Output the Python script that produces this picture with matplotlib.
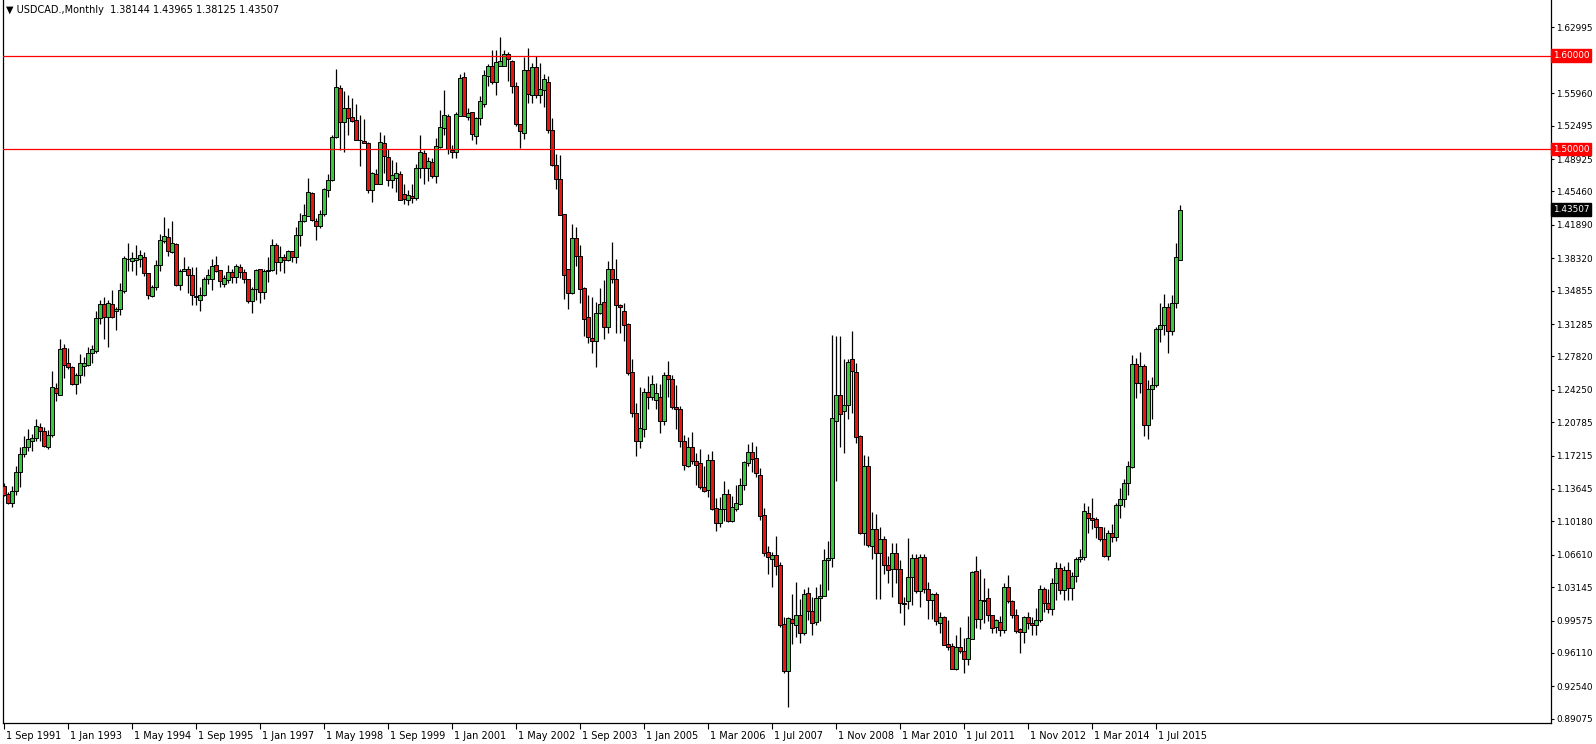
import matplotlib
matplotlib.use("Agg")
import matplotlib.pyplot as plt
import matplotlib.transforms as mtransforms
import numpy as np

# USDCAD monthly bars, Sep 1991 .. Jan 2016
opens = [
    1.1396, 1.1312, 1.1218, 1.1339, 1.1546, 1.1738, 1.1817, 1.1882, 1.1910, 1.2024,
    1.1981, 1.1817, 1.1938, 1.2444, 1.2373, 1.2872, 1.2708, 1.2672, 1.2487, 1.2580,
    1.2680, 1.2694, 1.2815, 1.2844, 1.3193, 1.3343, 1.3200, 1.3343, 1.3264, 1.3286,
    1.3485, 1.3820, 1.3806, 1.3813, 1.3827, 1.3849, 1.3670, 1.3424, 1.3521, 1.3756,
    1.4013, 1.4056, 1.3899, 1.3984, 1.3542, 1.3699, 1.3713, 1.3649, 1.3428, 1.3385,
    1.3435, 1.3606, 1.3613, 1.3756, 1.3706, 1.3556, 1.3599, 1.3685, 1.3627, 1.3735,
    1.3685, 1.3606, 1.3371, 1.3499, 1.3720, 1.3471, 1.3700, 1.3710, 1.3973, 1.3790,
    1.3850, 1.3810, 1.3910, 1.3850, 1.4080, 1.4230, 1.4280, 1.4529, 1.4230, 1.4180,
    1.4301, 1.4565, 1.4665, 1.5128, 1.5649, 1.5292, 1.5435, 1.5342, 1.5306, 1.5100,
    1.5086, 1.5064, 1.4558, 1.4736, 1.4622, 1.5064, 1.4914, 1.4665, 1.4693, 1.4729,
    1.4515, 1.4458, 1.4494, 1.4479, 1.4793, 1.4957, 1.4793, 1.4864, 1.4708, 1.5021,
    1.5228, 1.5357, 1.4992, 1.4964, 1.5357, 1.5770, 1.5342, 1.5392, 1.5135, 1.5328,
    1.5485, 1.5784, 1.5884, 1.5720, 1.5891, 1.5884, 1.6012, 1.5941, 1.5670, 1.5264,
    1.5166, 1.5845, 1.5574, 1.5874, 1.5581, 1.5631, 1.5717, 1.5203, 1.4825, 1.4676,
    1.4305, 1.3713, 1.3457, 1.4048, 1.3856, 1.3513, 1.3200, 1.2979, 1.2943, 1.3243,
    1.3364, 1.3093, 1.3721, 1.3613, 1.3328, 1.3264, 1.3128, 1.2615, 1.2173, 1.1880,
    1.2002, 1.2401, 1.2344, 1.2316, 1.2344, 1.2094, 1.2579, 1.2537, 1.2237, 1.2216,
    1.1874, 1.1610, 1.1809, 1.1660, 1.1638, 1.1382, 1.1353, 1.1674, 1.1160, 1.0996,
    1.1146, 1.1310, 1.1025, 1.1153, 1.1203, 1.1403, 1.1645, 1.1759, 1.1695, 1.1510,
    1.1082, 1.0690, 1.0611, 1.0654, 1.0547, 0.9920, 0.9421, 0.9977, 0.9906, 1.0013,
    0.9820, 1.0248, 1.0055, 0.9941, 1.0198, 1.0219, 1.0604, 1.0626, 1.2087, 1.2365,
    1.2194, 1.2258, 1.2751, 1.2615, 1.1930, 1.0897, 1.1610, 1.0754, 1.0932, 1.0676,
    1.0832, 1.0547, 1.0504, 1.0676, 1.0504, 1.0148, 1.0163, 1.0419, 1.0626, 1.0269,
    1.0640, 1.0291, 1.0177, 1.0241, 0.9927, 0.9991, 0.9706, 0.9684, 0.9435, 0.9670,
    0.9627, 0.9542, 0.9763, 1.0483, 0.9977, 1.0177, 1.0198, 1.0013, 0.9884, 0.9941,
    0.9856, 1.0312, 1.0170, 1.0020, 0.9870, 0.9834, 0.9991, 0.9927, 0.9913, 0.9963,
    1.0298, 1.0148, 1.0080, 1.0360, 1.0520, 1.0280, 1.0500, 1.0300, 1.0430, 1.0619,
    1.0633, 1.1104, 1.1054, 1.1040, 1.0954, 1.0833, 1.0647, 1.0890, 1.0854, 1.1189,
    1.1253, 1.1424, 1.1596, 1.2701, 1.2494, 1.2680, 1.2052, 1.2437, 1.2480, 1.3078,
    1.3121, 1.3314, 1.3057, 1.3350, 1.38144,
]
highs = [
    1.1424, 1.1332, 1.1396, 1.1610, 1.1810, 1.1931, 1.2002, 1.1957, 1.2116, 1.2067,
    1.2031, 1.1995, 1.2630, 1.2501, 1.2972, 1.2914, 1.2872, 1.2679, 1.2608, 1.2808,
    1.2772, 1.2879, 1.2900, 1.3271, 1.3385, 1.3421, 1.3385, 1.3492, 1.3314, 1.3563,
    1.3856, 1.3998, 1.3898, 1.3970, 1.3920, 1.3899, 1.3677, 1.3549, 1.3813, 1.4091,
    1.4277, 1.4155, 1.4227, 1.3991, 1.3713, 1.3841, 1.3749, 1.3735, 1.3735, 1.3528,
    1.3627, 1.3713, 1.3820, 1.3856, 1.3706, 1.3656, 1.3756, 1.3720, 1.3770, 1.3770,
    1.3713, 1.3613, 1.3521, 1.3720, 1.3720, 1.3720, 1.3850, 1.4037, 1.3990, 1.3966,
    1.3880, 1.3916, 1.3880, 1.4166, 1.4315, 1.4415, 1.4686, 1.4544, 1.4265, 1.4351,
    1.4579, 1.4729, 1.5150, 1.5856, 1.5685, 1.5620, 1.5578, 1.5542, 1.5485, 1.5364,
    1.5321, 1.5071, 1.4758, 1.4786, 1.5178, 1.5150, 1.5000, 1.4879, 1.4857, 1.4765,
    1.4629, 1.4565, 1.4629, 1.4843, 1.5150, 1.4985, 1.4914, 1.4900, 1.5121, 1.5413,
    1.5627, 1.5378, 1.5043, 1.5400, 1.5806, 1.5827, 1.5435, 1.5392, 1.5342, 1.5563,
    1.5841, 1.5905, 1.6055, 1.6062, 1.6198, 1.6055, 1.6034, 1.5955, 1.5720, 1.5271,
    1.5987, 1.6075, 1.5916, 1.5995, 1.5916, 1.5802, 1.5781, 1.5332, 1.4947, 1.4940,
    1.4305, 1.3720, 1.4198, 1.4168, 1.3970, 1.3521, 1.3435, 1.3421, 1.3364, 1.3513,
    1.3599, 1.3799, 1.4006, 1.3820, 1.3342, 1.3350, 1.3136, 1.2758, 1.2280, 1.2458,
    1.2440, 1.2572, 1.2587, 1.2494, 1.2487, 1.2615, 1.2729, 1.2579, 1.2473, 1.2252,
    1.1938, 1.1916, 1.1973, 1.1745, 1.1788, 1.1610, 1.1738, 1.1766, 1.1268, 1.1275,
    1.1446, 1.1360, 1.1289, 1.1410, 1.1481, 1.1666, 1.1845, 1.1866, 1.1823, 1.1588,
    1.1161, 1.0754, 1.0690, 1.0861, 1.0583, 0.9998, 1.0000, 1.0241, 1.0369, 1.0191,
    1.0291, 1.0319, 1.0212, 1.0319, 1.0348, 1.0725, 1.0811, 1.3014, 1.3000, 1.3000,
    1.2758, 1.2758, 1.3057, 1.2715, 1.1938, 1.1731, 1.1717, 1.1118, 1.1096, 1.0961,
    1.0861, 1.0647, 1.0782, 1.0782, 1.0604, 1.0212, 1.0840, 1.0669, 1.0669, 1.0669,
    1.0669, 1.0369, 1.0255, 1.0262, 1.0048, 1.0005, 0.9963, 0.9713, 0.9799, 0.9891,
    0.9770, 1.0005, 1.0490, 1.0647, 1.0512, 1.0412, 1.0305, 1.0013, 0.9977, 1.0005,
    1.0362, 1.0441, 1.0177, 1.0084, 0.9877, 1.0005, 1.0048, 0.9998, 1.0091, 1.0334,
    1.0319, 1.0290, 1.0410, 1.0580, 1.0570, 1.0540, 1.0580, 1.0480, 1.0640, 1.0725,
    1.1218, 1.1182, 1.1268, 1.1061, 1.0960, 1.0954, 1.0925, 1.0990, 1.1211, 1.1374,
    1.1467, 1.1667, 1.2800, 1.2765, 1.2829, 1.2701, 1.2530, 1.2565, 1.3100, 1.3349,
    1.3449, 1.3350, 1.3440, 1.3990, 1.43965,
]
lows = [
    1.1289, 1.1204, 1.1175, 1.1303, 1.1389, 1.1703, 1.1774, 1.1774, 1.1874, 1.1881,
    1.1810, 1.1796, 1.1916, 1.2309, 1.2373, 1.2551, 1.2651, 1.2473, 1.2380, 1.2501,
    1.2572, 1.2679, 1.2715, 1.2822, 1.3129, 1.2972, 1.2886, 1.3193, 1.3064, 1.3221,
    1.3456, 1.3692, 1.3699, 1.3649, 1.3735, 1.3642, 1.3392, 1.3414, 1.3492, 1.3692,
    1.4000, 1.3856, 1.3884, 1.3535, 1.3492, 1.3699, 1.3464, 1.3336, 1.3329, 1.3264,
    1.3428, 1.3556, 1.3492, 1.3685, 1.3528, 1.3528, 1.3570, 1.3570, 1.3570, 1.3620,
    1.3570, 1.3357, 1.3250, 1.3385, 1.3357, 1.3392, 1.3580, 1.3700, 1.3660, 1.3700,
    1.3670, 1.3800, 1.3790, 1.3780, 1.3959, 1.4223, 1.4280, 1.4230, 1.4030, 1.4159,
    1.4287, 1.4487, 1.4658, 1.5121, 1.4986, 1.4971, 1.5150, 1.5292, 1.5100, 1.4815,
    1.5064, 1.4530, 1.4437, 1.4622, 1.4622, 1.4743, 1.4601, 1.4587, 1.4544, 1.4458,
    1.4415, 1.4401, 1.4422, 1.4458, 1.4693, 1.4629, 1.4658, 1.4693, 1.4636, 1.5007,
    1.5150, 1.4943, 1.4900, 1.4900, 1.5357, 1.5350, 1.5314, 1.5093, 1.5057, 1.5257,
    1.5449, 1.5677, 1.5691, 1.5578, 1.5884, 1.5884, 1.5727, 1.5599, 1.5242, 1.5007,
    1.5104, 1.5489, 1.5495, 1.5545, 1.5495, 1.5446, 1.5168, 1.4818, 1.4576, 1.4291,
    1.3400, 1.3292, 1.3450, 1.3749, 1.3357, 1.3000, 1.2922, 1.2822, 1.2672, 1.3236,
    1.2972, 1.3029, 1.3563, 1.3029, 1.3036, 1.2943, 1.2580, 1.2137, 1.1720, 1.1800,
    1.1923, 1.2223, 1.2316, 1.2223, 1.1966, 1.2052, 1.2344, 1.2223, 1.2009, 1.1817,
    1.1567, 1.1603, 1.1631, 1.1410, 1.1360, 1.1332, 1.1282, 1.1139, 1.0918, 1.0953,
    1.1025, 1.1011, 1.1011, 1.1132, 1.1196, 1.1353, 1.1610, 1.1546, 1.1489, 1.1032,
    1.0647, 1.0454, 1.0319, 1.0447, 0.9891, 0.9399, 0.9030, 0.9710, 0.9780, 0.9720,
    0.9800, 0.9963, 0.9800, 0.9913, 0.9955, 1.0216, 1.0283, 1.0533, 1.1453, 1.1809,
    1.1752, 1.2116, 1.2180, 1.1852, 1.0882, 1.0768, 1.0747, 1.0618, 1.0191, 1.0191,
    1.0455, 1.0355, 1.0212, 1.0355, 1.0041, 0.9913, 1.0084, 1.0127, 1.0248, 1.0098,
    1.0248, 0.9970, 0.9970, 0.9906, 0.9820, 0.9692, 0.9642, 0.9435, 0.9428, 0.9606,
    0.9392, 0.9478, 0.9763, 0.9877, 0.9870, 0.9927, 0.9948, 0.9827, 0.9827, 0.9792,
    0.9820, 1.0148, 0.9984, 0.9827, 0.9614, 0.9720, 0.9870, 0.9806, 0.9799, 0.9941,
    1.0050, 1.0040, 1.0020, 1.0180, 1.0240, 1.0180, 1.0180, 1.0180, 1.0370, 1.0580,
    1.0604, 1.0897, 1.0932, 1.0840, 1.0804, 1.0633, 1.0604, 1.0797, 1.0811, 1.1054,
    1.1175, 1.1303, 1.1589, 1.2337, 1.2394, 1.1931, 1.1902, 1.2116, 1.2451, 1.2936,
    1.3007, 1.2822, 1.3010, 1.3300, 1.38125,
]
closes = [
    1.1303, 1.1218, 1.1339, 1.1546, 1.1738, 1.1817, 1.1902, 1.1910, 1.2038, 1.1981,
    1.1824, 1.1938, 1.2451, 1.2387, 1.2865, 1.2694, 1.2672, 1.2487, 1.2587, 1.2708,
    1.2708, 1.2815, 1.2858, 1.3193, 1.3343, 1.3200, 1.3350, 1.3207, 1.3293, 1.3492,
    1.3834, 1.3820, 1.3834, 1.3834, 1.3863, 1.3670, 1.3435, 1.3528, 1.3756, 1.4027,
    1.4070, 1.3906, 1.3991, 1.3549, 1.3692, 1.3720, 1.3649, 1.3435, 1.3414, 1.3442,
    1.3613, 1.3649, 1.3749, 1.3692, 1.3592, 1.3620, 1.3685, 1.3635, 1.3749, 1.3685,
    1.3613, 1.3371, 1.3506, 1.3706, 1.3471, 1.3700, 1.3710, 1.3973, 1.3790, 1.3850,
    1.3810, 1.3910, 1.3850, 1.4080, 1.4230, 1.4294, 1.4544, 1.4237, 1.4180, 1.4301,
    1.4572, 1.4665, 1.5128, 1.5663, 1.5292, 1.5435, 1.5335, 1.5300, 1.5100, 1.5096,
    1.5064, 1.4565, 1.4743, 1.4629, 1.5071, 1.4922, 1.4665, 1.4722, 1.4743, 1.4458,
    1.4465, 1.4508, 1.4479, 1.4793, 1.4964, 1.4800, 1.4871, 1.4715, 1.5028, 1.5235,
    1.5364, 1.5000, 1.4971, 1.5378, 1.5756, 1.5350, 1.5385, 1.5157, 1.5328, 1.5513,
    1.5791, 1.5884, 1.5720, 1.5927, 1.5941, 1.6012, 1.5962, 1.5670, 1.5271, 1.5192,
    1.5840, 1.5588, 1.5874, 1.5581, 1.5645, 1.5745, 1.5203, 1.4825, 1.4676, 1.4298,
    1.3656, 1.3457, 1.4048, 1.3856, 1.3506, 1.3186, 1.2993, 1.2950, 1.3243, 1.3342,
    1.3093, 1.3721, 1.3613, 1.3328, 1.3307, 1.3114, 1.2608, 1.2173, 1.1880, 1.2016,
    1.2401, 1.2344, 1.2487, 1.2387, 1.2094, 1.2579, 1.2537, 1.2244, 1.2216, 1.1874,
    1.1617, 1.1809, 1.1660, 1.1617, 1.1382, 1.1346, 1.1674, 1.1153, 1.1004, 1.1146,
    1.1310, 1.1018, 1.1175, 1.1210, 1.1403, 1.1652, 1.1759, 1.1688, 1.1531, 1.1075,
    1.0683, 1.0640, 1.0654, 1.0540, 0.9913, 0.9421, 0.9984, 0.9927, 1.0013, 0.9820,
    1.0241, 1.0055, 0.9927, 1.0198, 1.0219, 1.0604, 1.0626, 1.2123, 1.2365, 1.2166,
    1.2258, 1.2722, 1.2622, 1.1923, 1.0897, 1.1610, 1.0761, 1.0932, 1.0683, 1.0832,
    1.0547, 1.0497, 1.0676, 1.0511, 1.0141, 1.0134, 1.0419, 1.0626, 1.0269, 1.0640,
    1.0291, 1.0177, 1.0241, 0.9955, 0.9991, 0.9699, 0.9677, 0.9442, 0.9670, 0.9627,
    0.9542, 0.9770, 1.0476, 0.9977, 1.0177, 1.0170, 1.0013, 0.9877, 0.9963, 0.9856,
    1.0312, 1.0170, 1.0020, 0.9842, 0.9834, 0.9991, 0.9927, 0.9913, 0.9963, 1.0298,
    1.0148, 1.0080, 1.0360, 1.0520, 1.0280, 1.0500, 1.0300, 1.0430, 1.0619, 1.0633,
    1.1125, 1.1054, 1.1032, 1.0954, 1.0833, 1.0647, 1.0897, 1.0854, 1.1196, 1.1253,
    1.1424, 1.1610, 1.2701, 1.2494, 1.2680, 1.2052, 1.2430, 1.2480, 1.3071, 1.3121,
    1.3314, 1.3057, 1.3350, 1.3840, 1.43507,
]

# axis labels
date_ticks = [0, 16, 32, 48, 64, 80, 96, 112, 128, 144, 160, 176, 192, 208, 224, 240, 256, 272, 288]
date_labels = ["1 Sep 1991", "1 Jan 1993", "1 May 1994", "1 Sep 1995", "1 Jan 1997",
               "1 May 1998", "1 Sep 1999", "1 Jan 2001", "1 May 2002", "1 Sep 2003",
               "1 Jan 2005", "1 Mar 2006", "1 Jul 2007", "1 Nov 2008", "1 Mar 2010",
               "1 Jul 2011", "1 Nov 2012", "1 Mar 2014", "1 Jul 2015"]
price_ticks = [1.62995, 1.59530, 1.55960, 1.52495, 1.48925, 1.45460, 1.41890, 1.38320,
               1.34855, 1.31285, 1.27820, 1.24250, 1.20785, 1.17215, 1.13645, 1.10180,
               1.06610, 1.03145, 0.99575, 0.96110, 0.92540, 0.89075]
levels = [1.60000, 1.50000]
last_price = 1.43507
header = "USDCAD.,Monthly  1.38144 1.43965 1.38125 1.43507"

o = np.array(opens)
h = np.array(highs)
l = np.array(lows)
c = np.array(closes)
x = np.arange(len(c))

W, H = 1596, 744
fig = plt.figure(figsize=(W / 100, H / 100), dpi=100)
fig.patch.set_facecolor("white")
# plot frame: left edge x=3, price scale at x=1551, date scale at y=723
ax = fig.add_axes([3 / W, 21 / H, 1548 / W, 723 / H])
ax.set_facecolor("white")

up = c >= o
body_lo = np.minimum(o, c)
body_h = np.abs(c - o)
cols = np.where(up, "#3cc83c", "#e8140f")

ax.vlines(x, l, h, color="black", linewidth=0.9, zorder=2)
ax.bar(x, body_h, bottom=body_lo, width=0.78, color=cols,
       edgecolor="black", linewidth=0.7, zorder=3)

for lv in levels:
    ax.axhline(lv, color="#ff0000", linewidth=0.9, zorder=4)

ax.set_xlim(-0.25, 386.75)
ax.set_ylim(0.88613, 1.65936)

ax.spines["top"].set_visible(False)
for s in ["left", "bottom", "right"]:
    ax.spines[s].set_color("black")
    ax.spines[s].set_linewidth(0.9)

ax.yaxis.tick_right()
ax.set_yticks(price_ticks)
ax.set_yticklabels([f"{v:.5f}" for v in price_ticks])
ax.tick_params(axis="y", direction="out", length=2.5, width=0.8, pad=1.5,
               labelsize=6.4, colors="black")

ax.set_xticks(date_ticks)
ax.set_xticklabels(date_labels, ha="left")
ax.tick_params(axis="x", direction="out", length=4, width=0.8, pad=2,
               labelsize=7, colors="black")
offset = mtransforms.ScaledTranslation(2 / 100, 0, fig.dpi_scale_trans)
for lab in ax.get_xticklabels():
    lab.set_transform(lab.get_transform() + offset)

# price boxes on the right scale
trans = mtransforms.blended_transform_factory(ax.transAxes, ax.transData)
for lv in levels:
    ax.text(1.0012, lv, f"{lv:.5f}", transform=trans, ha="left", va="center",
            fontsize=6.4, color="white", zorder=10, clip_on=False,
            bbox=dict(boxstyle="square,pad=0.2", fc="#ff0000", ec="#ff0000"))
ax.text(1.0012, last_price, f"{last_price:.5f}", transform=trans, ha="left",
        va="center", fontsize=6.4, color="white", zorder=10, clip_on=False,
        bbox=dict(boxstyle="square,pad=0.2", fc="black", ec="black"))

fig.text(6 / W, 1 - 10 / H, "\u25bc " + header, fontsize=7, color="black",
         ha="left", va="center")

fig.savefig("out.png", dpi=100, facecolor="white")
